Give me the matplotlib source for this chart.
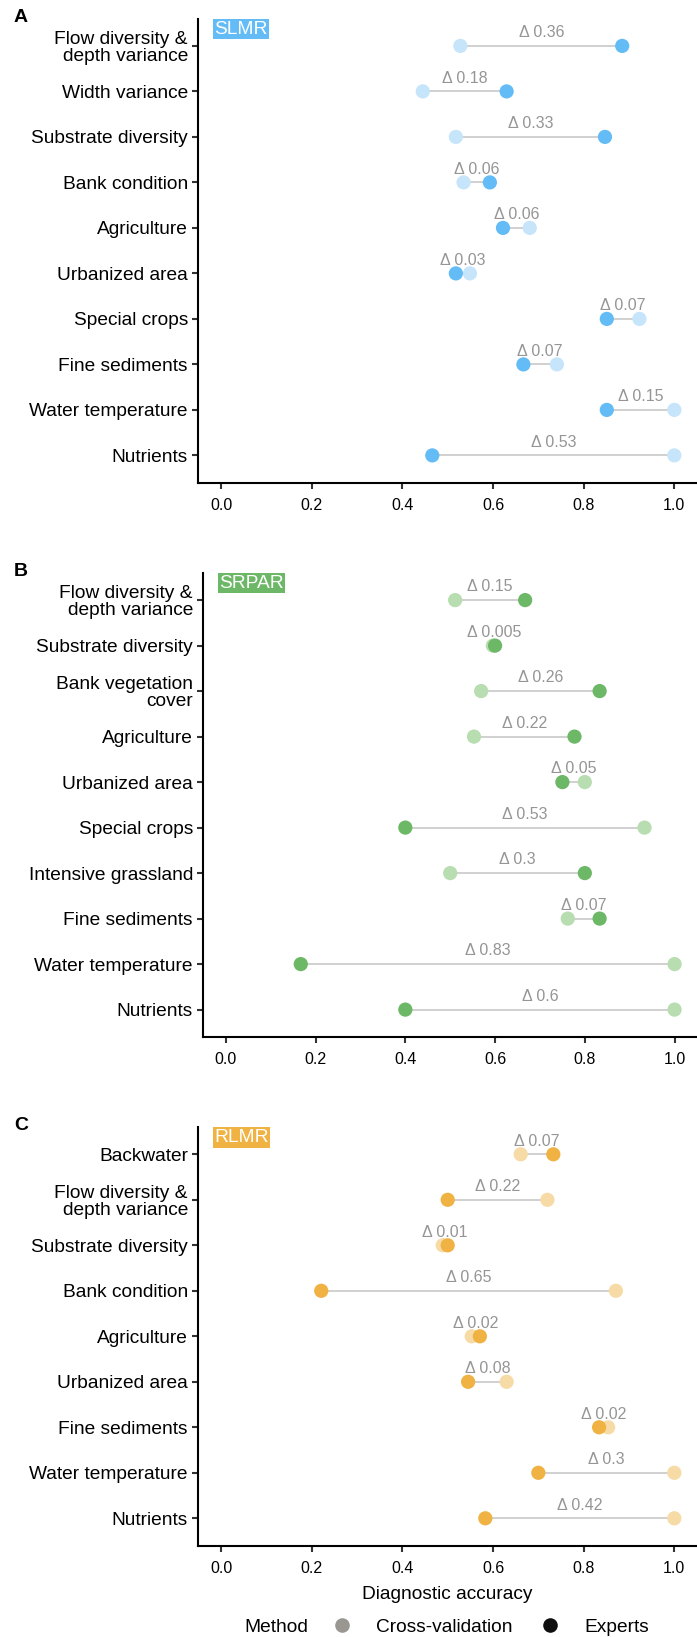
import matplotlib
matplotlib.use("Agg")
import matplotlib.pyplot as plt
from matplotlib.lines import Line2D
import numpy as np

plt.rcParams['font.family'] = ['Liberation Sans', 'DejaVu Sans']

# ---------------- data ----------------
a_categories = ["Flow diversity &\ndepth variance", "Width variance", "Substrate diversity",
                "Bank condition", "Agriculture", "Urbanized area", "Special crops",
                "Fine sediments", "Water temperature", "Nutrients"]
a_cv = [0.528, 0.445, 0.518, 0.535, 0.681, 0.549, 0.923, 0.741, 1.0, 1.0]
a_experts = [0.885, 0.630, 0.847, 0.593, 0.622, 0.518, 0.851, 0.667, 0.851, 0.466]
a_delta = ["Δ 0.36", "Δ 0.18", "Δ 0.33", "Δ 0.06", "Δ 0.06", "Δ 0.03", "Δ 0.07",
           "Δ 0.07", "Δ 0.15", "Δ 0.53"]

b_categories = ["Flow diversity &\ndepth variance", "Substrate diversity",
                "Bank vegetation\ncover", "Agriculture", "Urbanized area", "Special crops",
                "Intensive grassland", "Fine sediments", "Water temperature", "Nutrients"]
b_cv = [0.511, 0.595, 0.569, 0.553, 0.800, 0.933, 0.500, 0.762, 1.0, 1.0]
b_experts = [0.667, 0.600, 0.833, 0.777, 0.750, 0.400, 0.800, 0.833, 0.167, 0.400]
b_delta = ["Δ 0.15", "Δ 0.005", "Δ 0.26", "Δ 0.22", "Δ 0.05", "Δ 0.53", "Δ 0.3",
           "Δ 0.07", "Δ 0.83", "Δ 0.6"]

c_categories = ["Backwater", "Flow diversity &\ndepth variance", "Substrate diversity",
                "Bank condition", "Agriculture", "Urbanized area", "Fine sediments",
                "Water temperature", "Nutrients"]
c_cv = [0.661, 0.720, 0.489, 0.871, 0.553, 0.630, 0.854, 1.0, 1.0]
c_experts = [0.733, 0.500, 0.500, 0.221, 0.571, 0.545, 0.834, 0.700, 0.583]
c_delta = ["Δ 0.07", "Δ 0.22", "Δ 0.01", "Δ 0.65", "Δ 0.02", "Δ 0.08", "Δ 0.02",
           "Δ 0.3", "Δ 0.42"]

x_ticks = [0.0, 0.2, 0.4, 0.6, 0.8, 1.0]
x_ticklabels = ["0.0", "0.2", "0.4", "0.6", "0.8", "1.0"]

panel_letters = ["A", "B", "C"]
river_types = ["SLMR", "SRPAR", "RLMR"]
method_labels = ["Cross-validation", "Experts"]

# ---------------- styles ----------------
W, H = 697, 1637
fig = plt.figure(figsize=(W / 100, H / 100), dpi=100)

expert_colors = ["#64BCF6", "#6DB866", "#EFB243"]
cv_colors = ["#C6E5FB", "#B8DDB1", "#F7DBA6"]
seg_color = "#CDCDCD"
delta_color = "#959595"

# axes rectangles in pixels: (left, top, right, bottom)
rects = [(198.4, 18.6, 697, 482.7),
         (203.4, 572.8, 697, 1036.9),
         (198.4, 1127.0, 697, 1545.6)]

datasets = [(a_categories, a_cv, a_experts, a_delta),
            (b_categories, b_cv, b_experts, b_delta),
            (c_categories, c_cv, c_experts, c_delta)]

for i, ((cats, cv, ex, dl), (l, t, r, b)) in enumerate(zip(datasets, rects)):
    ax = fig.add_axes([l / W, 1 - b / H, (r - l) / W, (b - t) / H])
    n = len(cats)
    y = np.arange(n)[::-1]
    cv = np.asarray(cv)
    ex = np.asarray(ex)
    ax.hlines(y, np.minimum(cv, ex), np.maximum(cv, ex), color=seg_color, lw=1.3, zorder=1)
    ax.scatter(cv, y, s=105, color=cv_colors[i], edgecolors='none', zorder=2)
    ax.scatter(ex, y, s=105, color=expert_colors[i], edgecolors='none', zorder=3)
    for yy, c1, c2, lab in zip(y, cv, ex, dl):
        ax.annotate(lab, xy=((c1 + c2) / 2, yy), xytext=(0, 9.5), textcoords='offset points',
                    ha='center', va='center', fontsize=11.5, color=delta_color, zorder=4)
    ax.set_xlim(-0.05, 1.05)
    ax.set_ylim(-0.6, n - 1 + 0.6)
    ax.set_yticks(y)
    ax.set_yticklabels(cats, fontsize=13.8, color='black', linespacing=1.0)
    ax.set_xticks(x_ticks)
    ax.set_xticklabels(x_ticklabels, fontsize=11.5, color='black')
    for s in ['top', 'right']:
        ax.spines[s].set_visible(False)
    for s in ['left', 'bottom']:
        ax.spines[s].set_linewidth(1.5)
        ax.spines[s].set_color('black')
    ax.tick_params(axis='both', length=4.5, width=1.5, color='#333333')
    ax.tick_params(axis='y', pad=3)
    ax.tick_params(axis='x', pad=6.5)
    # river type label box
    ax.text(0.032, 1.0 - 2.0 / (b - t), river_types[i], transform=ax.transAxes,
            ha='left', va='top', fontsize=13.8, color='white',
            bbox=dict(boxstyle='square,pad=0.08', fc=expert_colors[i], ec='none'))
    # panel letter
    fig.text(21 / W, 1 - (t - 1) / H, panel_letters[i], ha='center', va='center',
             fontsize=14, fontweight='bold')
    if i == 2:
        ax.set_xlabel("Diagnostic accuracy", fontsize=13.8, labelpad=7.5)

# legend
fig.text(276 / W, 1 - 1627 / H, "Method", ha='center', va='center', fontsize=13.8)
handles = [Line2D([], [], ls='none', marker='o', markersize=10.5, color=c, mec='none')
           for c in ["#9A9792", "#0F0F0F"]]
fig.legend(handles, method_labels, loc='center left', bbox_to_anchor=(332.5 / W, 1 - 1627 / H),
           ncol=2, frameon=False, fontsize=13.8, handlelength=1.0, handletextpad=1.25,
           columnspacing=1.5, borderpad=0, borderaxespad=0)

fig.savefig("out.png", dpi=100)
